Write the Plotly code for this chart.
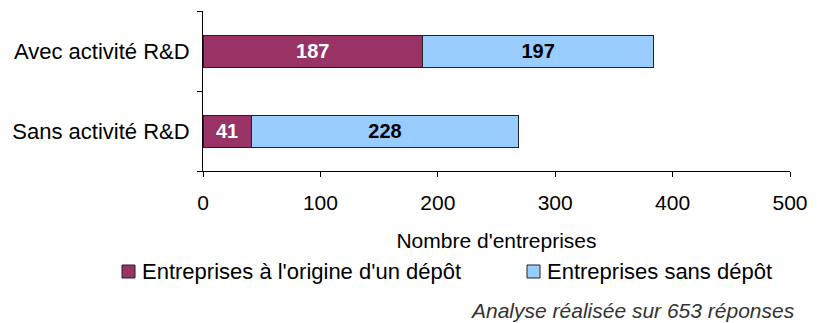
import plotly.graph_objects as go

# Survey counts by R&D status
categories = ["Avec activité R&D", "Sans activité R&D"]
avec_depot = [187, 41]
sans_depot = [197, 228]
series_names = ["Entreprises à l'origine d'un dépôt", "Entreprises sans dépôt"]
x_ticks = [0, 100, 200, 300, 400, 500]
axis_title = "Nombre d'entreprises"
footnote = "Analyse réalisée sur 653 réponses"

FONT = "Liberation Sans, Arial, sans-serif"
MAROON = "#993366"
SKY = "#99CCFF"
colors = [MAROON, SKY]
label_colors = ["white", "black"]

W, H = 820, 323
M = dict(l=203, r=30, t=11, b=152)
PW = W - M["l"] - M["r"]
PH = H - M["t"] - M["b"]


def px(x):
    return (x - M["l"]) / PW


def py(y):
    return (H - M["b"] - y) / PH


fig = go.Figure()
for name, vals, col, lc in zip(series_names, [avec_depot, sans_depot], colors, label_colors):
    fig.add_trace(go.Bar(
        y=categories, x=vals, orientation="h", name=name,
        marker=dict(color=col, line=dict(color="#222222", width=1)),
        text=vals, textposition="inside", insidetextanchor="middle",
        textangle=0, constraintext="none",
        textfont=dict(family=FONT, size=20, color=lc, weight="bold"),
        showlegend=False,
    ))

# Legend drawn as swatches + labels below the axis title
shapes = []
annotations = []
legend_x = [122, 527]
for name, col, x0 in zip(series_names, colors, legend_x):
    shapes.append(dict(
        type="rect", xref="paper", yref="paper",
        x0=px(x0), x1=px(x0 + 13), y0=py(278), y1=py(265),
        fillcolor=col, line=dict(color="#222222", width=1),
    ))
    annotations.append(dict(
        text=name, xref="paper", yref="paper", x=px(x0 + 18), y=py(271.5),
        xanchor="left", yanchor="middle", showarrow=False,
        font=dict(family=FONT, size=22, color="black"),
    ))

annotations.append(dict(
    text=footnote, xref="paper", yref="paper", x=px(797), y=py(310),
    xanchor="right", yanchor="middle", showarrow=False,
    font=dict(family=FONT, size=21, color="#333333", style="italic"),
))

fig.update_layout(
    width=W, height=H, margin=M,
    barmode="stack", bargap=0.6,
    paper_bgcolor="white", plot_bgcolor="white",
    font=dict(family=FONT, size=21, color="black"),
    showlegend=False,
    xaxis=dict(
        range=[0, 500], tickvals=x_ticks, ticks="outside", ticklen=5,
        tickcolor="black", showline=True, linecolor="black", linewidth=1,
        showgrid=False, zeroline=False, ticklabelstandoff=8,
        title=dict(text=axis_title, standoff=20, font=dict(size=21)),
        tickfont=dict(size=21),
    ),
    yaxis=dict(
        categoryorder="array", categoryarray=categories[::-1],
        ticks="outside", tickson="boundaries", ticklen=5, tickcolor="black",
        showline=True, linecolor="black", linewidth=1, showgrid=False,
        tickfont=dict(size=22), ticklabelstandoff=8,
    ),
    shapes=shapes,
    annotations=annotations,
)

fig.write_html("out.html")
